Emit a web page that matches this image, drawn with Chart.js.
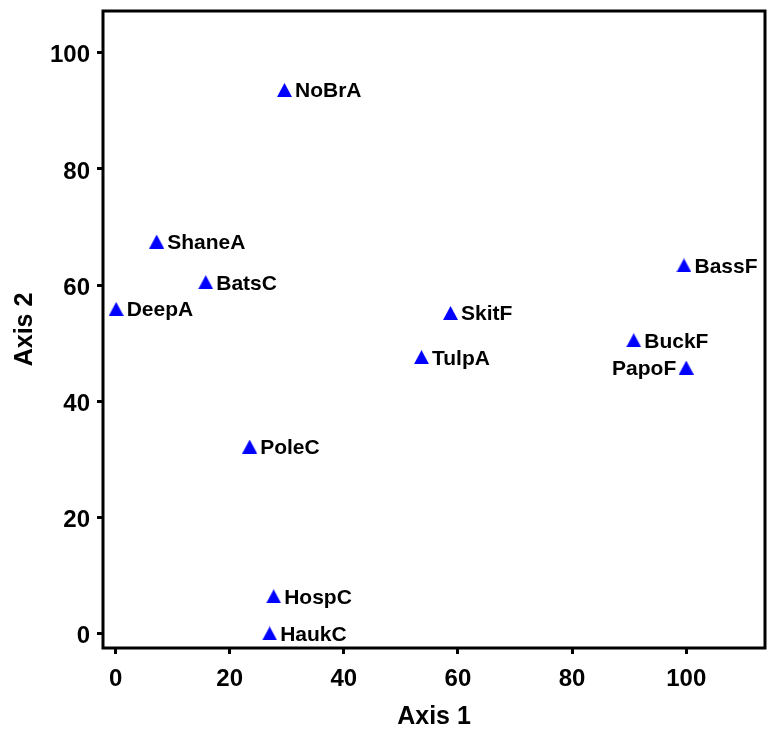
<!DOCTYPE html>
<html>
<head>
<meta charset="utf-8">
<script src="https://cdn.jsdelivr.net/npm/chart.js@4.4.1/dist/chart.umd.min.js"></script>
<style>
  html, body { margin: 0; padding: 0; background: #fff; }
  #wrap { width: 768px; height: 741px; }
</style>
</head>
<body>
<div id="wrap"><canvas id="ord" width="768" height="741"></canvas></div>
<script>
// ordination scores
const siteNames = ['NoBrA', 'ShaneA', 'BatsC', 'DeepA', 'SkitF', 'TulpA', 'BassF', 'BuckF', 'PapoF', 'PoleC', 'HospC', 'HaukC'];
const axis1 = [29.6, 7.2, 15.8, 0.1, 58.7, 53.6, 99.6, 90.8, 100, 23.5, 27.7, 27.0];
const axis2 = [93.6, 67.5, 60.5, 55.9, 55.2, 47.6, 63.4, 50.5, 45.8, 32.2, 6.4, 0];
const xTicks = [0, 20, 40, 60, 80, 100];
const yTicks = [0, 20, 40, 60, 80, 100];

const FONT = "'Liberation Sans', Arial, sans-serif";
const leftLabels = ['PapoF'];   // label drawn on the left of its marker

// blue triangle marker, centred on its box
const tri = document.createElement('canvas');
tri.width = 15; tri.height = 14;
(function () {
  const t = tri.getContext('2d');
  t.fillStyle = '#0000FF';
  t.beginPath();
  t.moveTo(7.5, 0);
  t.lineTo(15, 14);
  t.lineTo(0, 14);
  t.closePath();
  t.fill();
})();

const framePlugin = {
  id: 'frame',
  afterDraw(chart) {
    const { ctx, chartArea: a } = chart;
    ctx.save();
    ctx.strokeStyle = '#000';
    ctx.lineWidth = 3;
    ctx.strokeRect(a.left, a.top, a.right - a.left, a.bottom - a.top);
    ctx.restore();
  }
};

const labelPlugin = {
  id: 'siteLabels',
  afterDatasetsDraw(chart) {
    const ctx = chart.ctx;
    const meta = chart.getDatasetMeta(0);
    ctx.save();
    ctx.font = 'bold 21px ' + FONT;
    ctx.fillStyle = '#000';
    ctx.textBaseline = 'alphabetic';
    meta.data.forEach((pt, i) => {
      const name = siteNames[i];
      if (leftLabels.includes(name)) {
        ctx.textAlign = 'right';
        ctx.fillText(name, pt.x - 10, pt.y + 7.5);
      } else {
        ctx.textAlign = 'left';
        ctx.fillText(name, pt.x + 10.5, pt.y + 7.5);
      }
    });
    ctx.restore();
  }
};

function noPad(s) {
  s.paddingTop = 0; s.paddingBottom = 0; s.paddingLeft = 0; s.paddingRight = 0;
}

const tickFont = { family: FONT, size: 24, weight: 'bold' };
const titleFont = { family: FONT, size: 25, weight: 'bold' };

new Chart(document.getElementById('ord'), {
  type: 'scatter',
  data: {
    datasets: [{
      data: siteNames.map((n, i) => ({ x: axis1[i], y: axis2[i] })),
      pointStyle: tri,
      pointRadius: 8,
      pointHoverRadius: 8
    }]
  },
  options: {
    responsive: false,
    animation: false,
    devicePixelRatio: 1,
    layout: { autoPadding: false, padding: { top: 11, right: 3, left: 0, bottom: 0 } },
    plugins: { legend: { display: false }, tooltip: { enabled: false } },
    scales: {
      x: {
        type: 'linear',
        min: -2.2,
        max: 113.8,
        afterBuildTicks: s => { s.ticks = xTicks.map(v => ({ value: v })); },
        afterFit: s => { s.height = 93; noPad(s); },
        ticks: { color: '#000', font: tickFont, padding: 11, maxRotation: 0 },
        grid: { drawOnChartArea: false, drawTicks: true, tickLength: 6, tickWidth: 3, color: '#000' },
        border: { display: false },
        title: { display: true, text: 'Axis 1', color: '#000', font: titleFont, padding: { top: 0, bottom: 9 } }
      },
      y: {
        type: 'linear',
        min: -2.5,
        max: 107.2,
        afterBuildTicks: s => { s.ticks = yTicks.map(v => ({ value: v })); },
        afterFit: s => { s.width = 103; noPad(s); },
        ticks: { color: '#000', font: tickFont, padding: 7, labelOffset: 3 },
        grid: { drawOnChartArea: false, drawTicks: true, tickLength: 6, tickWidth: 3, color: '#000' },
        border: { display: false },
        title: { display: true, text: 'Axis 2', color: '#000', font: titleFont, padding: { top: 10, bottom: 0 } }
      }
    }
  },
  plugins: [framePlugin, labelPlugin]
});
</script>
</body>
</html>
